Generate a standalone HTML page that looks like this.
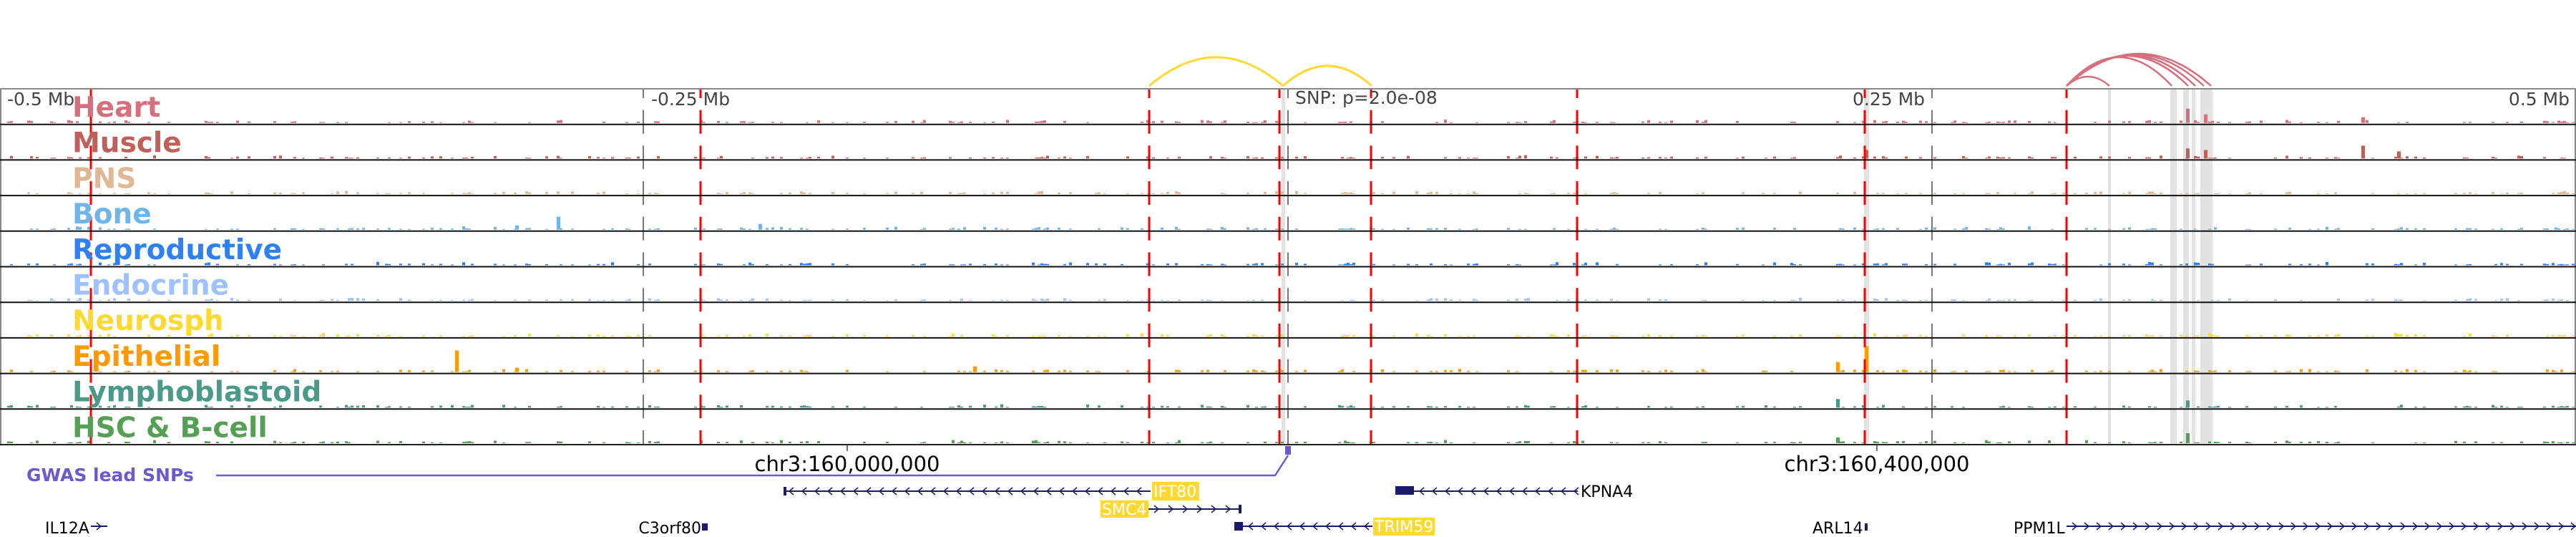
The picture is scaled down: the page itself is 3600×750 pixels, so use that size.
<!DOCTYPE html>
<html><head><meta charset="utf-8"><style>
html,body{margin:0;padding:0;background:#fff;width:3600px;height:750px;overflow:hidden}
svg text{font-family:"DejaVu Sans","Liberation Sans",sans-serif}
</style></head><body>
<svg id="s" width="3600" height="750" xmlns="http://www.w3.org/2000/svg">
<rect width="3600" height="750" fill="#fff"/>
<g id="bg"></g>
<g id="sig"></g>
<g id="lines"></g>
<line x1="0" y1="124" x2="3600" y2="124" stroke="#888" stroke-width="2"/>
<line x1="1" y1="124" x2="1" y2="621" stroke="#888" stroke-width="2"/>
<line x1="3599" y1="124" x2="3599" y2="621" stroke="#888" stroke-width="2"/>
<g id="rows"></g>
<g fill="none" stroke="#ffd92f" stroke-width="3">
<path d="M1606 120 Q1700 40 1793 120"/>
<path d="M1793 120 Q1855 64 1917 120"/>
</g>
<g fill="none" stroke="#d6707e" stroke-width="2.5">
<path d="M2888 120 Q2918 94 2948 120"/>
<path d="M2888 120 Q2961 40 3035 120"/>
<path d="M2888 120 Q2973 36 3058 120"/>
<path d="M2888 120 Q2978 34 3068 120"/>
<path d="M2888 120 Q2984 32 3080 120"/>
<path d="M2888 120 Q2989 30 3090 120"/>
</g>
<g fill="#444" font-size="25">
<text x="10" y="147">-0.5 Mb</text>
<text x="910" y="147">-0.25 Mb</text>
<text x="2589" y="147">0.25 Mb</text>
<text x="3591" y="147" text-anchor="end">0.5 Mb</text>
<text x="1810" y="145">SNP: p=2.0e-08</text>
</g>
<g id="labels" font-weight="bold" font-size="39"></g>
<line x1="0" y1="621" x2="3600" y2="621" stroke="#222" stroke-width="2"/>
<line x1="1184" y1="621" x2="1184" y2="630" stroke="#444" stroke-width="1.5"/>
<line x1="2623" y1="621" x2="2623" y2="630" stroke="#444" stroke-width="1.5"/>
<text x="1184" y="658" font-size="29" text-anchor="middle" fill="#000">chr3:160,000,000</text>
<text x="2623" y="658" font-size="29" text-anchor="middle" fill="#000">chr3:160,400,000</text>
<text x="37" y="672" font-size="25" font-weight="bold" fill="#6a5acd">GWAS lead SNPs</text>
<polyline points="302,664 1782,664 1800,636" fill="none" stroke="#6a5acd" stroke-width="2.5"/>
<rect x="1796" y="623" width="8" height="12" fill="#6a5acd"/>
<g id="genes" stroke="#1a1a6e" fill="none" stroke-width="2"></g>
<g font-size="22">
<rect x="1610" y="673" width="66" height="26" fill="#ffd92f"/><text x="1612" y="694" fill="#fff">IFT80</text>
<rect x="1538" y="699" width="67" height="24" fill="#ffd92f"/><text x="1540" y="719" fill="#fff">SMC4</text>
<rect x="1919" y="723" width="86" height="25" fill="#ffd92f"/><text x="1921" y="743" fill="#fff">TRIM59</text>
<text x="2209" y="694" fill="#000">KPNA4</text>
<text x="63" y="745" fill="#000">IL12A</text>
<text x="980" y="745" fill="#000" text-anchor="end">C3orf80</text>
<text x="2533" y="745" fill="#000">ARL14</text>
<text x="2814" y="745" fill="#000">PPM1L</text>
</g>
<rect x="981" y="731" width="8" height="10" fill="#1a1a6e"/>
<rect x="2606" y="731" width="4" height="10" fill="#1a1a6e"/>
<rect x="1095" y="680" width="4" height="12" fill="#1a1a6e"/>
<rect x="1950" y="679" width="26" height="12" fill="#1a1a6e"/>
<rect x="1725" y="729" width="12" height="12" fill="#1a1a6e"/>
<rect x="1731" y="705" width="4" height="12" fill="#1a1a6e"/>
</svg>
<script>
var NS="http://www.w3.org/2000/svg";
function el(p,t,a){var e=document.createElementNS(NS,t);for(var k in a)e.setAttribute(k,a[k]);p.appendChild(e);return e;}
var bg=document.getElementById('bg'),sig=document.getElementById('sig'),ln=document.getElementById('lines'),rows=document.getElementById('rows'),lab=document.getElementById('labels'),genes=document.getElementById('genes');
[[1791,5],[2605,7],[2946,4],[3033,9],[3051,8],[3063,5],[3075,17]].forEach(function(b){el(bg,'rect',{x:b[0],y:124,width:b[1],height:497,fill:'#e2e2e2'});});
var names=["Heart","Muscle","PNS","Bone","Reproductive","Endocrine","Neurosph","Epithelial","Lymphoblastoid","HSC & B-cell"];
var cols=["#d6707e","#c0605a","#e0b894","#6fb5e8","#2f7ff5","#9ec2ff","#ffd92f","#ff9a00","#4a9a8a","#55a055"];
var seed=7;function rnd(){seed=(seed*16807)%2147483647;return seed/2147483647;}
var peaks={3:[[778,18],[720,6],[1060,8]],7:[[636,30],[2606,36],[2566,14],[1360,8],[720,6]],8:[[2566,12],[3055,10]],9:[[3055,14],[2566,8]],0:[[3055,20],[3080,12],[3300,8]],1:[[3055,14],[3080,12],[3300,18],[3350,10],[2606,12]]};
// activity mask shared across rows
var mask=[];var s2=11;for(var x=0;x<3600;x+=4){s2=(s2*16807)%2147483647;mask.push(s2/2147483647<0.35);}
for(var i=0;i<10;i++){
 var bot=124+49.7*(i+1);
 for(var x=10,j=2;x<3595;x+=4,j++){
  if(mask[j]&&rnd()<0.7){var h=1+rnd()*rnd()*4;el(sig,'rect',{x:x,y:bot-2-h,width:4,height:h,fill:cols[i]});}
 }
 (peaks[i]||[]).forEach(function(p){el(sig,'rect',{x:p[0],y:bot-2-p[1],width:5,height:p[1],fill:cols[i]});});
 el(rows,'line',{x1:0,y1:bot,x2:3600,y2:bot,stroke:'#111','stroke-width':2});
 var t=el(lab,'text',{x:101,y:124+49.7*i+39,fill:cols[i]});t.textContent=names[i];
}
[127,979,1606,1788,1916,2204,2606,2888].forEach(function(x){el(ln,'line',{x1:x,y1:124,x2:x,y2:621,stroke:'#f00','stroke-width':3,'stroke-dasharray':'33 16.7','stroke-dashoffset':'20'});});
[899,2700,1800].forEach(function(x){el(ln,'line',{x1:x,y1:124,x2:x,y2:621,stroke:'#777','stroke-width':2,'stroke-dasharray':'33 16.7','stroke-dashoffset':'20'});});
function gene(x1,x2,y,dir,step){el(genes,'line',{x1:x1,y1:y,x2:x2,y2:y});for(var x=x1+8;x<x2-4;x+=step){var d=dir<0?'M'+(x+6)+' '+(y-5)+' L'+x+' '+y+' L'+(x+6)+' '+(y+5):'M'+x+' '+(y-5)+' L'+(x+6)+' '+y+' L'+x+' '+(y+5);el(genes,'path',{d:d,'stroke-width':1.5});}}
gene(1095,1608,686,-1,18);gene(1976,2205,686,-1,18);gene(1605,1735,711,1,20);gene(1737,1918,735,-1,18);gene(127,150,735,1,20);gene(2888,3600,735,1,17);
</script>
</body></html>
